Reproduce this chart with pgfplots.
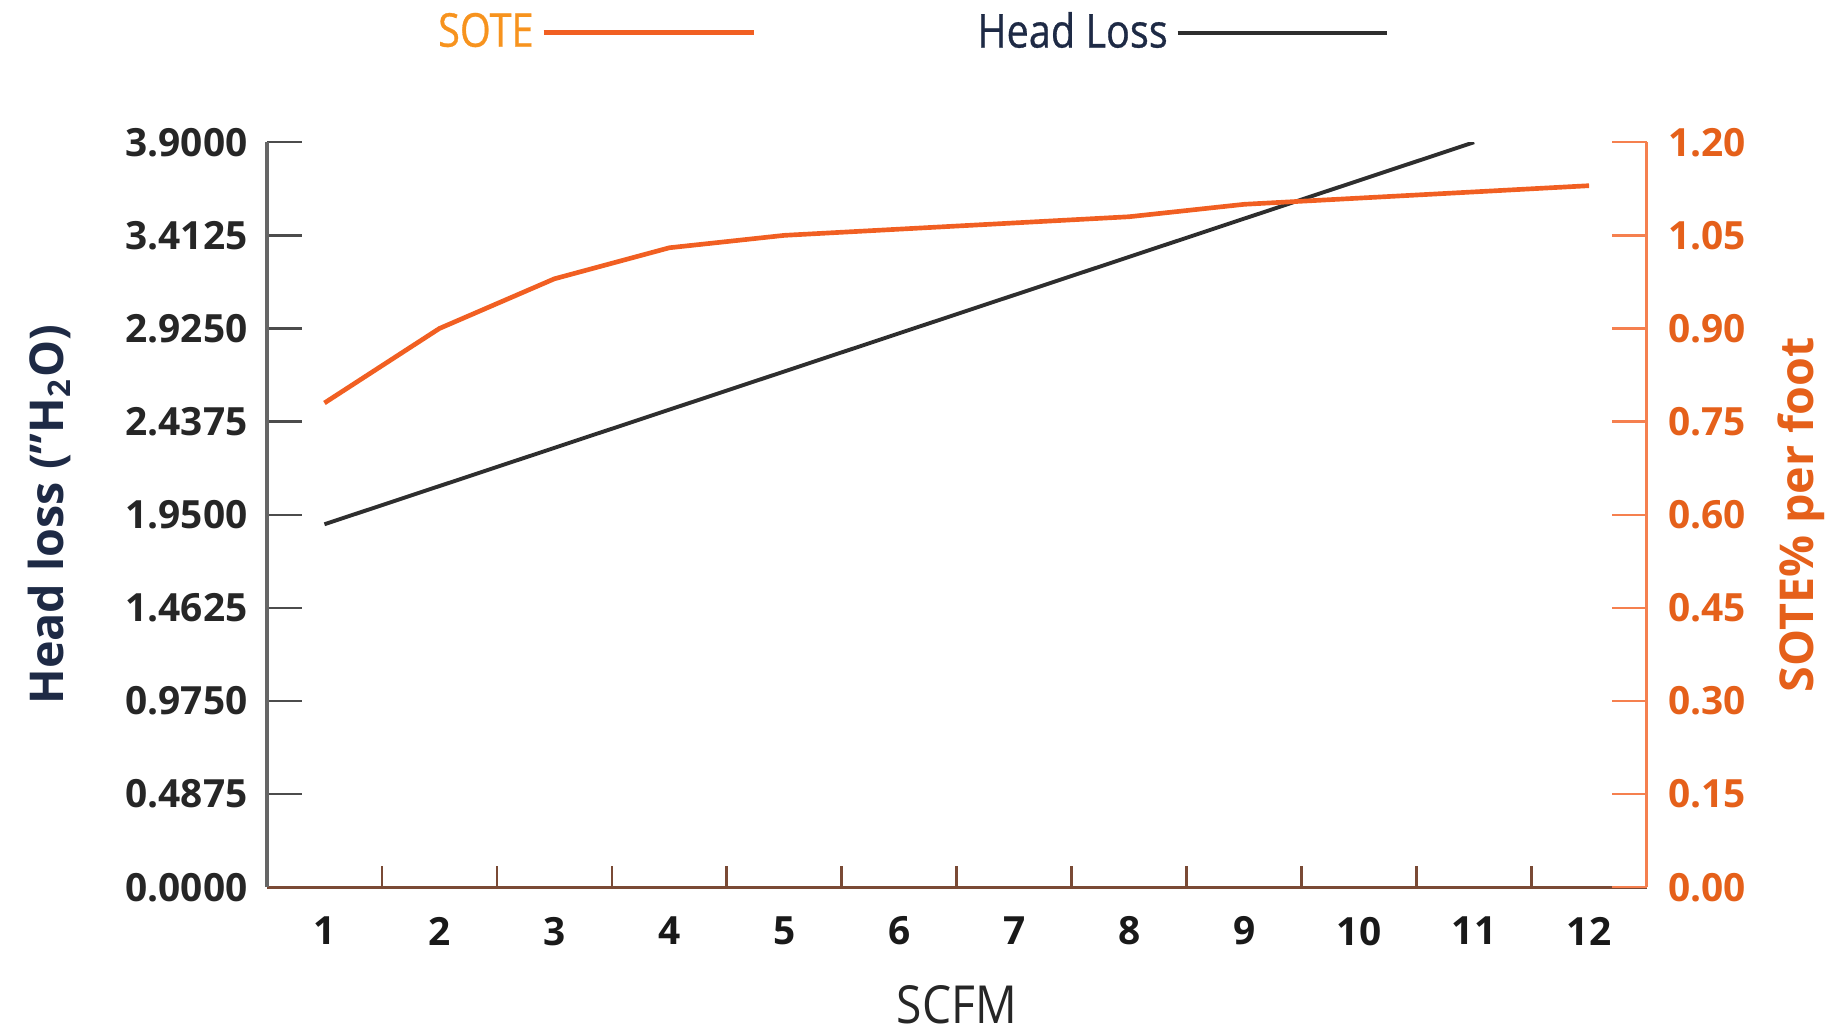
\documentclass[border=0pt]{standalone}
\usepackage{fontspec}
\setmainfont{Open Sans}
\newfontfamily\condfont[FakeStretch=0.88]{Open Sans}
\newfontfamily\legfont[FakeStretch=0.85, FakeBold=0.6]{Open Sans}
\usepackage{pgfplots}
\pgfplotsset{compat=1.18}
\definecolor{soteline}{HTML}{F15F22}
\definecolor{soteaxis}{HTML}{F5804F}
\definecolor{sotetext}{HTML}{E5601A}
\definecolor{legorange}{HTML}{F7931E}
\definecolor{navy}{HTML}{1E2A45}
\definecolor{hlline}{HTML}{2E2E2E}
\definecolor{xaxis}{HTML}{7A4A35}

\pgfplotsset{
  common/.style={
    scale only axis,
    width=355pt, height=191.7pt,
    xmin=0.5, xmax=12.5,
    major tick length=9pt,
    /pgf/number format/assume math mode=true,
    ticklabel style={font=\bfseries\fontsize{10}{12}\selectfont},
  }
}

\begin{document}
\begin{tikzpicture}
\begin{axis}[
    common,
    ymin=0, ymax=3.9,
    axis x line=bottom, axis y line=left,
    tick align=inside,
    every outer x axis line/.append style={-},
    every outer y axis line/.append style={-},
    x axis line style={-, color=xaxis, line width=0.8pt},
    y axis line style={-, color=black!60, line width=0.8pt},
    xtick={1,...,12}, major x tick style={draw=none},
    minor xtick={1.5,2.5,...,11.5},
    minor tick length=5.4pt,
    minor x tick style={color=xaxis, line width=0.7pt},
    ytick={0,0.4875,0.975,1.4625,1.95,2.4375,2.925,3.4125,3.9},
    y tick style={color=black!70, line width=0.6pt},
    yticklabel style={/pgf/number format/.cd, fixed, fixed zerofill, precision=4, /tikz/.cd, xshift=-1.5pt, color=black!85},
    xticklabel style={yshift=-4.1pt, color=black!90},
    xlabel={SCFM},
    xlabel style={at={(axis description cs:0.5,-0.158)}, anchor=center, font=\condfont\fontsize{13.5}{15}\selectfont, color=black!85},
    ylabel={Head loss ("H\textsubscript{2}O)},
    ylabel style={at={(axis description cs:-0.158,0.5)}, anchor=center, font=\bfseries\fontsize{12}{14}\selectfont, color=navy},
]
\addplot[hlline, line width=1pt] coordinates {
  (1,1.9) (2,2.1) (3,2.3) (4,2.5) (5,2.7) (6,2.9) (7,3.1) (8,3.3) (9,3.5) (10,3.7) (11,3.9)
};
\coordinate (sw) at (rel axis cs:0,0);
\end{axis}
\begin{axis}[
    common,
    ymin=0, ymax=1.2,
    axis x line=none, axis y line=right,
    tick align=inside,
    every outer y axis line/.append style={-},
    y axis line style={-, color=soteaxis, line width=0.8pt},
    ytick={0,0.15,0.3,0.45,0.6,0.75,0.9,1.05,1.2},
    y tick style={color=soteaxis, line width=0.6pt},
    yticklabel style={/pgf/number format/.cd, fixed, fixed zerofill, precision=2, /tikz/.cd, xshift=2pt, color=sotetext},
    ylabel={SOTE\% per foot},
    ylabel style={at={(axis description cs:1.112,0.5)}, anchor=center, font=\bfseries\fontsize{12}{14}\selectfont, color=sotetext},
    legend plot pos=right,
    legend columns=2,
    legend image code/.code={\draw[#1] (0pt,0pt) -- (54pt,0pt);},
    legend style={at={(axis description cs:0.466,1.147)}, anchor=center, draw=none, fill=none,
      font=\legfont\fontsize{12}{14}\selectfont,
      /tikz/every even column/.append style={column sep=55pt}},
]
\addplot[soteline, line width=1.2pt] coordinates {
  (1,0.78) (2,0.90) (3,0.98) (4,1.03) (5,1.05) (6,1.06) (7,1.07) (8,1.08) (9,1.10) (10,1.11) (11,1.12) (12,1.13)
};
\addlegendentry{\textcolor{legorange}{SOTE}}
\addlegendimage{hlline, line width=1pt}
\addlegendentry{\textcolor{navy}{Head Loss}}
\end{axis}
\pgfresetboundingbox
\path[use as bounding box] (sw) ++(-68.7pt,-37.2pt) rectangle ++(470.4pt,265.5pt);
\end{tikzpicture}
\end{document}
